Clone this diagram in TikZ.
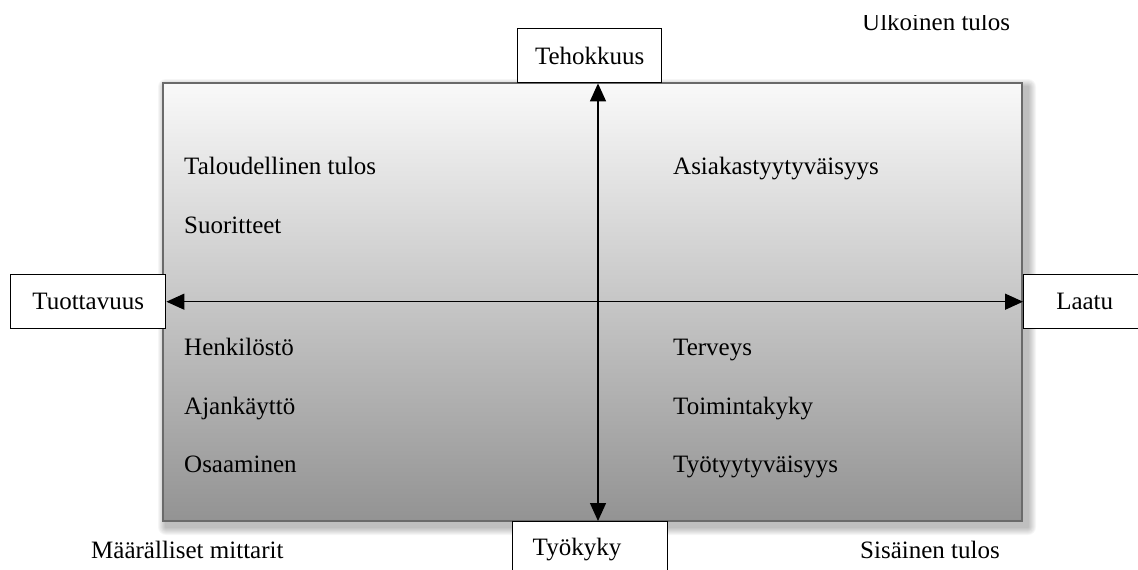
\documentclass[tikz,border=0pt]{standalone}
\usepackage{fontspec}
\setmainfont{Liberation Serif}
\usetikzlibrary{arrows.meta}
\definecolor{topc}{HTML}{F9F9F9}
\definecolor{botc}{HTML}{939393}
\definecolor{rim}{HTML}{6A6A6A}
\begin{document}
\begin{tikzpicture}[x=1pt,y=-1pt,
  lbl/.style={anchor=base west, inner sep=0pt, font=\fontsize{25}{30}\selectfont},
  box/.style={draw=black, line width=1.4pt, fill=white, inner sep=0pt, font=\fontsize{25}{30}\selectfont},
  arr/.style={line width=1.4pt, {Triangle[length=18pt,width=16pt]}-{Triangle[length=18pt,width=16pt]}}]
\useasboundingbox (0,0) rectangle (1138,570);
\clip (0,0) rectangle (1138,570);
% soft shadow
\foreach \i in {1,...,8}{
  \fill[black, opacity=0.035, rounded corners=\i] (166-\i,87-\i) rectangle (1028+\i,527+\i);
}
% main panel
\shade[top color=topc, bottom color=botc] (163,83) rectangle (1022,521);
\draw[rim, line width=2pt] (163,83) rectangle (1022,521);
% corner labels
\begin{scope}
\clip (800,15) rectangle (1100,50);
\node[lbl] (ulk) at (862,30) {Ulkoinen tulos};
\end{scope}
\node[lbl] (maa) at (91,558) {Määrälliset mittarit};
\node[lbl] (sis) at (860,558) {Sisäinen tulos};
% inner labels
\node[lbl] (t1) at (184,174) {Taloudellinen tulos};
\node[lbl] (t2) at (184,233) {Suoritteet};
\node[lbl] (t3) at (184,355) {Henkilöstö};
\node[lbl] (t4) at (184,414) {Ajankäyttö};
\node[lbl] (t5) at (184,472) {Osaaminen};
\node[lbl] (r1) at (673,174) {Asiakastyytyväisyys};
\node[lbl] (r3) at (673,355) {Terveys};
\node[lbl] (r4) at (673,414) {Toimintakyky};
\node[lbl] (r5) at (673,472) {Työtyytyväisyys};
% axis boxes
\node[box, minimum width=144, minimum height=54, anchor=north west] (teh) at (517,28) {Tehokkuus};
\node[box, minimum width=155, minimum height=54, anchor=north west] (tuo) at (10,274) {Tuottavuus};
\node[box, minimum width=122, minimum height=54, anchor=north west] (laa) at (1023,274) {Laatu};
\node[box, text width=115, align=left, inner xsep=20, minimum height=56, anchor=north west] (tyo) at (512,521) {Työkyky};
% axes
\coordinate (ax) at (598,0);
\draw[arr] (teh.south -| ax) -- (tyo.north -| ax);
\draw[arr] (tuo.east) -- (laa.west);
\end{tikzpicture}
\end{document}
